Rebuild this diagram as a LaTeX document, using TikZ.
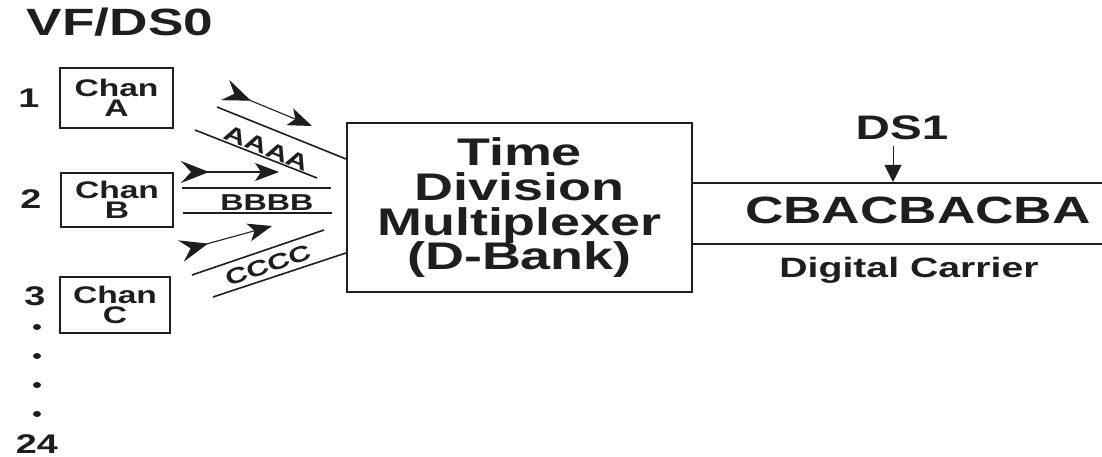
\documentclass[tikz,border=0pt]{standalone}
\usepackage{fontspec}
\setmainfont{Liberation Sans}
\newfontfamily\hf[FakeStretch=1.4]{Liberation Sans}
\usetikzlibrary{arrows.meta,shapes.geometric}
\definecolor{ink}{RGB}{30,30,30}
\begin{document}
\begin{tikzpicture}[x=1pt,y=-1pt,
  txt/.style={text=ink, inner sep=0pt, font=\hf\bfseries},
  fs/.style={font=\hf\bfseries\fontsize{#1}{#1}\selectfont},
  box/.style={draw=ink, line width=1.8pt, inner sep=0pt, text=ink},
  wire/.style={draw=ink, line width=1.6pt},
  sig/.style={draw=ink, line width=1.1pt,
    arrows={Stealth[reversed,length=28pt,width=22pt,inset=10pt]-Stealth[length=24pt,width=18pt,inset=6pt]}},
  dot/.style={ellipse, fill=ink, inner sep=0pt, minimum width=8pt, minimum height=6pt},
]
\useasboundingbox[fill=white] (0,0) rectangle (1102,457);

% title and channel numbers
\node[txt, fs=38, anchor=base] (title) at (120,36) {VF/DS0};
\node[txt, fs=27, anchor=base] (n1) at (29,108) {1};
\node[txt, fs=27, anchor=base] (n2) at (31,208) {2};
\node[txt, fs=27, anchor=base] (n3) at (35,305) {3};
\node[dot] (d1) at (37,327) {};
\node[dot] (d2) at (37,356) {};
\node[dot] (d3) at (37,385) {};
\node[dot] (d4) at (37,414) {};
\node[txt, fs=27, anchor=base] (n24) at (37,453) {24};

% channel boxes
\node[box, minimum width=113pt, minimum height=60pt, align=center,
  font=\hf\bfseries\fontsize{24}{20.5}\selectfont] (chA) at (116.5,98) {Chan\\A};
\node[box, minimum width=112pt, minimum height=54pt, align=center,
  font=\hf\bfseries\fontsize{24}{20.5}\selectfont] (chB) at (117,200) {Chan\\B};
\node[box, minimum width=110pt, minimum height=56pt, align=center,
  font=\hf\bfseries\fontsize{24}{20.5}\selectfont] (chC) at (115,305) {Chan\\C};

% multiplexer
\node[box, minimum width=345pt, minimum height=169pt] (tdm) at (519.5,207.5) {};
\node[txt, fs=38.5, anchor=base] (t1) at (519.5,166) {Time};
\node[txt, fs=38.5, anchor=base] (t2) at (519.5,200.5) {Division};
\node[txt, fs=38.5, anchor=base] (t3) at (519.5,235) {Multiplexer};
\node[txt, fs=38.5, anchor=base] (t4) at (519.5,269.5) {(D-Bank)};

% channel A signal
\coordinate (aS) at (225,90);
\coordinate (aE) at (312,126);
\draw[sig] (aS) -- (aE);
\coordinate (a1s) at (217,107);
\coordinate (a1e) at (346,159);
\coordinate (a2s) at (195,130);
\coordinate (a2e) at (317,178);
\draw[wire] (a1s) -- (a1e);
\draw[wire] (a2s) -- (a2e);
\node[txt, fs=22, rotate=-22] (aaaa) at (267,148) {AAAA};

% channel B signal
\coordinate (bS) at (181,172);
\coordinate (bE) at (279,172);
\draw[sig] (bS) -- (bE);
\coordinate (b1s) at (182,188);
\coordinate (b1e) at (331,188);
\coordinate (b2s) at (183,213);
\coordinate (b2e) at (332,213);
\draw[wire] (b1s) -- (b1e);
\draw[wire] (b2s) -- (b2e);
\node[txt, fs=23, anchor=base] (bbbb) at (267,210) {BBBB};

% channel C signal
\coordinate (cS) at (181,251);
\coordinate (cE) at (272,226);
\draw[sig] (cS) -- (cE);
\coordinate (c1s) at (192,275);
\coordinate (c1e) at (324,230);
\coordinate (c2s) at (213,297);
\coordinate (c2e) at (346,253);
\draw[wire] (c1s) -- (c1e);
\draw[wire] (c2s) -- (c2e);
\node[txt, fs=22, rotate=18.7] (cccc) at (268,265) {CCCC};

% digital carrier
\coordinate (cr1) at (1102,183);
\coordinate (cr2) at (1102,244);
\draw[wire] (tdm.east |- cr1) -- (cr1);
\draw[wire] (tdm.east |- cr2) -- (cr2);
\node[txt, fs=38, anchor=base] (frame) at (918,223) {CBACBACBA};
\node[txt, fs=34, anchor=base] (ds1) at (902,140) {DS1};
\coordinate (dstop) at (893,146);
\coordinate (dsend) at (893,182);
\draw[draw=ink, line width=1pt, -{Triangle[length=17pt,width=17pt]}] (dstop) -- (dsend);
\node[txt, fs=28, anchor=base] (dc) at (909,277) {Digital Carrier};
\end{tikzpicture}
\end{document}
